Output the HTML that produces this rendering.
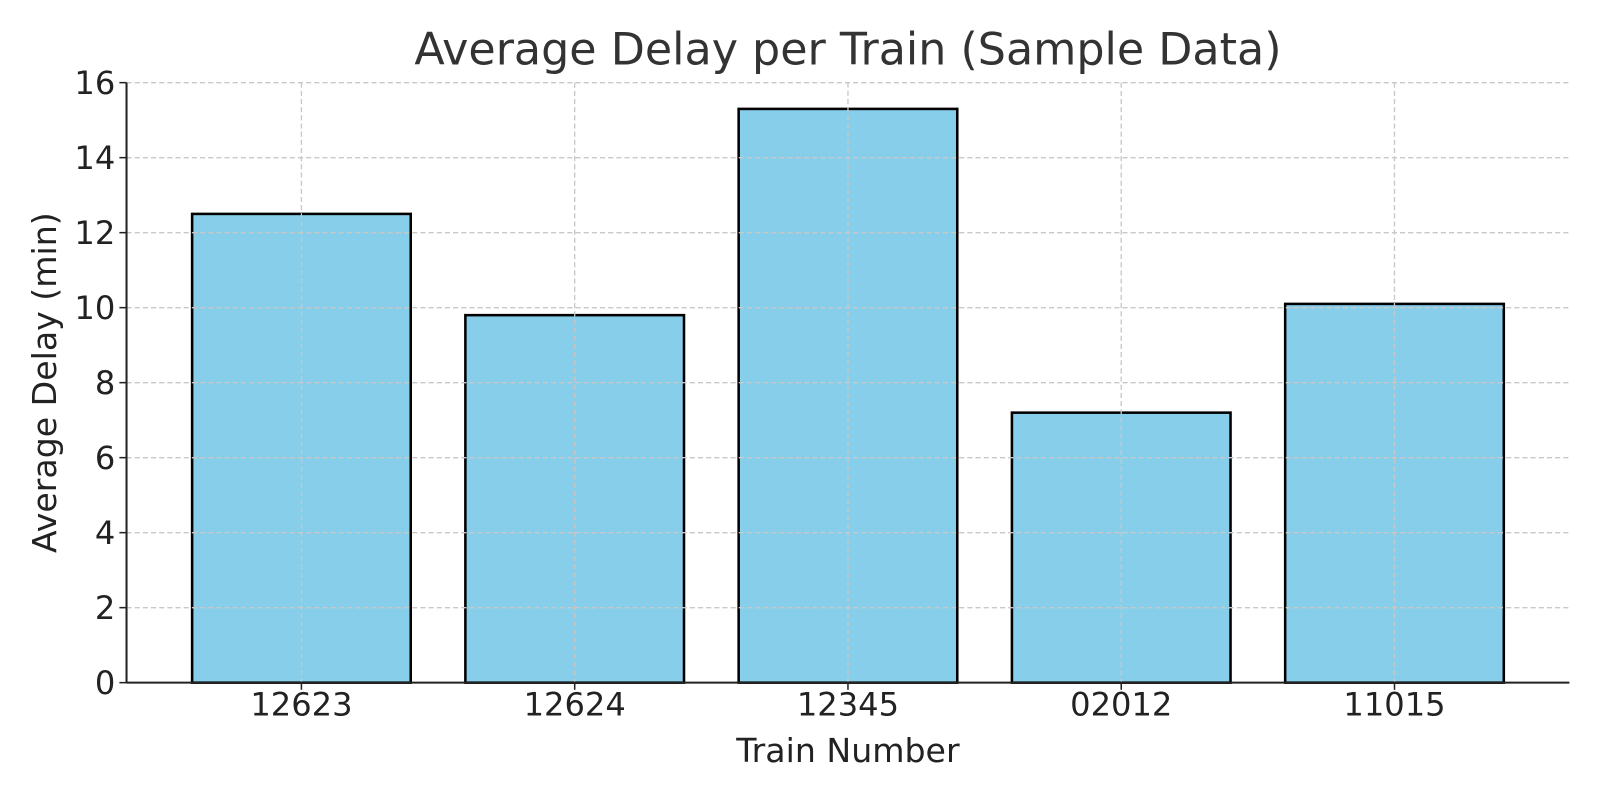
<!DOCTYPE html>
<html><head><meta charset="utf-8"><style>
body{margin:0;background:#fff;}
svg text{font-family:"DejaVu Sans","Liberation Sans",sans-serif;}
</style></head><body>
<svg id="chart" width="1600" height="800" viewBox="0 0 1568 784" xmlns="http://www.w3.org/2000/svg">
<rect width="1568" height="784" fill="#fff"/>
<text x="831" y="63" font-size="43.5" fill="#333" text-anchor="middle">Average Delay per Train (Sample Data)</text>
<g id="bars"></g><g id="grid"></g><g id="axes"></g>
<text x="831" y="747" font-size="32.5" fill="#222" text-anchor="middle">Train Number</text>
<text transform="translate(55,375) rotate(-90)" font-size="32.5" fill="#222" text-anchor="middle">Average Delay (min)</text>
</svg>
<script>
const categories = ["12623","12624","12345","02012","11015"];
const delays = [12.5, 9.8, 15.3, 7.2, 10.1];
const yTicks = [0,2,4,6,8,10,12,14,16];

const NS="http://www.w3.org/2000/svg";
const L=124,R=1538,T=81,B=669;
const xMin=-0.64,xMax=4.64,yMin=0,yMax=16;
const xs=v=>L+(v-xMin)/(xMax-xMin)*(R-L);
const ys=v=>B-(v-yMin)/(yMax-yMin)*(B-T);
function mk(tag,attrs,parent){const e=document.createElementNS(NS,tag);for(const k in attrs)e.setAttribute(k,attrs[k]);parent.appendChild(e);return e;}
const bars=document.getElementById('bars'),grid=document.getElementById('grid'),axes=document.getElementById('axes');
const bw=0.8*(xs(1)-xs(0));
categories.forEach((c,i)=>{
  const r=mk('rect',{x:xs(i)-bw/2,y:ys(delays[i]),width:bw,height:ys(0)-ys(delays[i]),fill:'#87CEEB',stroke:'#000','stroke-width':2.5},bars);
  
  
  const g=mk('line',{x1:xs(i),x2:xs(i),y1:T,y2:B,stroke:'#c8c8c8','stroke-width':1.3,'stroke-dasharray':'5,3'},grid);
  
  
  mk('line',{x1:xs(i),x2:xs(i),y1:B,y2:B+7,stroke:'#222','stroke-width':1.5},axes);
  const t=mk('text',{x:xs(i),y:B+32,'font-size':31.5,fill:'#222','text-anchor':'middle'},axes);
  t.textContent=c;
  
  
});
yTicks.forEach(v=>{
  const g=mk('line',{x1:L,x2:R,y1:ys(v),y2:ys(v),stroke:'#c8c8c8','stroke-width':1.3,'stroke-dasharray':'5,3'},grid);
  
  
  mk('line',{x1:L-7,x2:L,y1:ys(v),y2:ys(v),stroke:'#222','stroke-width':1.5},axes);
  const t=mk('text',{x:L-11,y:ys(v)+11,'font-size':31.5,fill:'#222','text-anchor':'end'},axes);
  t.textContent=v;
  
  
});
const ya=mk('line',{x1:L,x2:L,y1:T,y2:B,stroke:'#222','stroke-width':2},axes);


const xa=mk('line',{x1:L,x2:R,y1:B,y2:B,stroke:'#222','stroke-width':2},axes);


</script>
</body></html>
